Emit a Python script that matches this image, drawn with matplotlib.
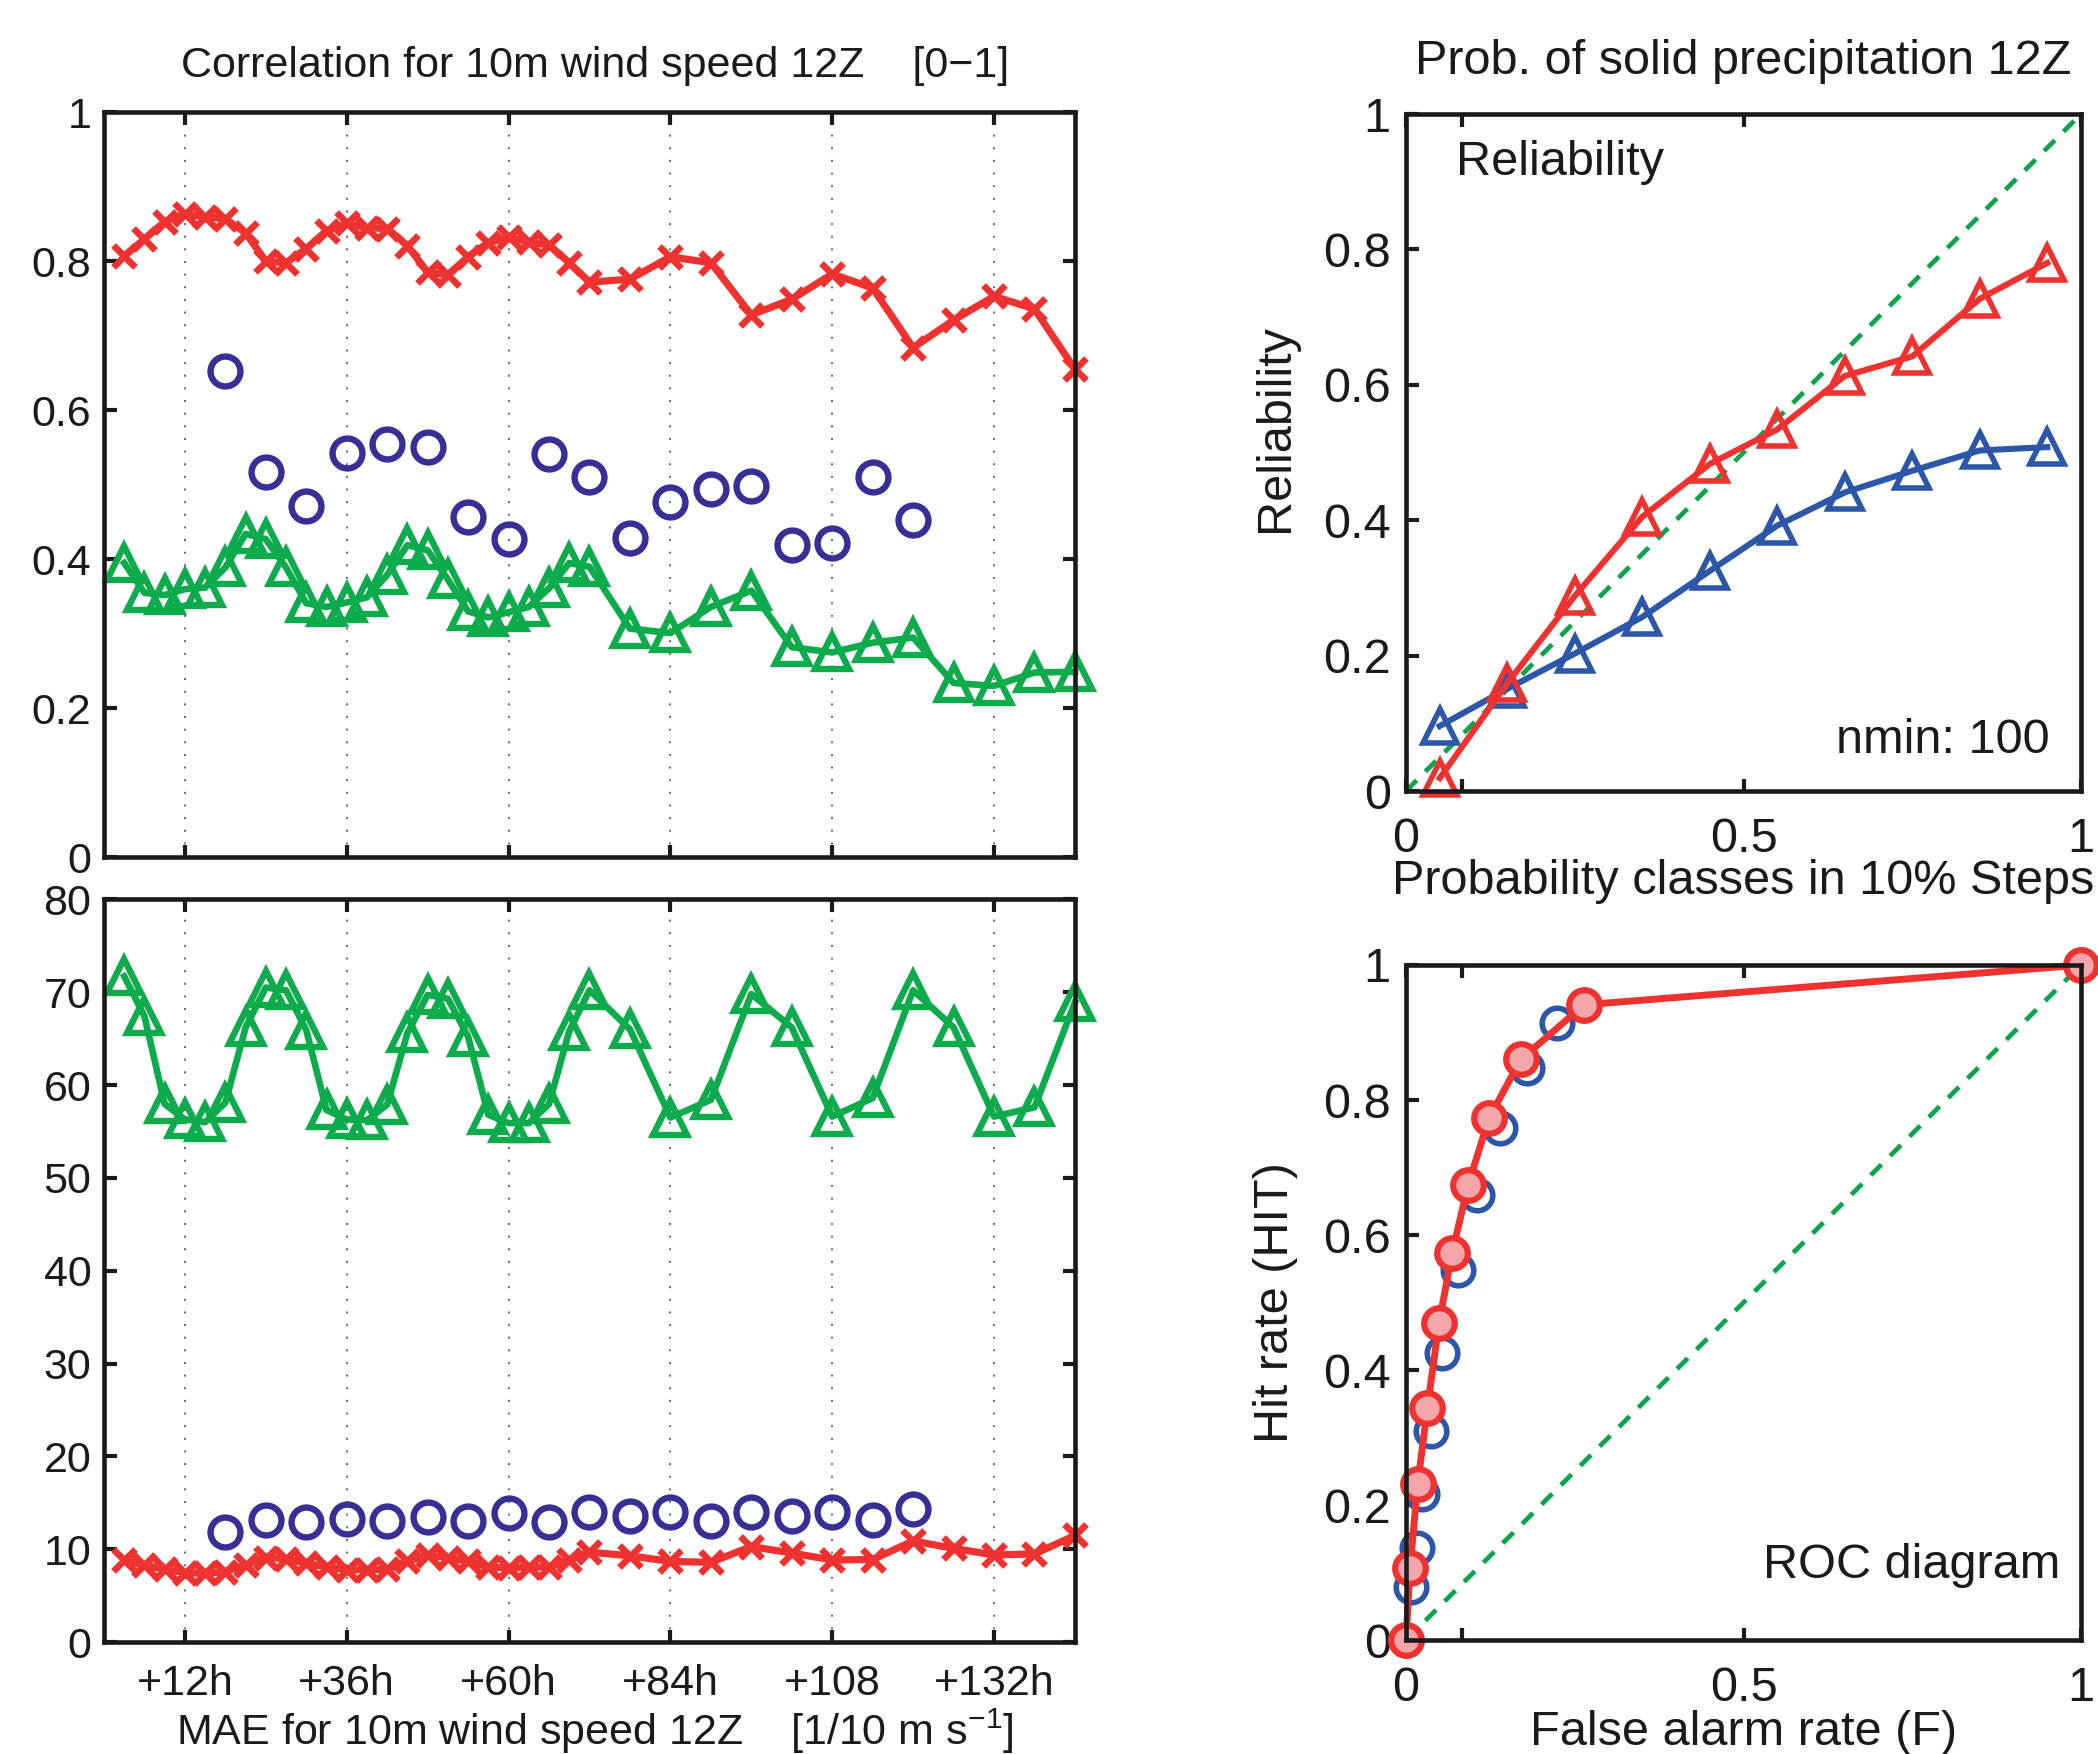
import matplotlib
matplotlib.use("Agg")
import matplotlib.pyplot as plt

# --- data ------------------------------------------------------------------
lead_h = [3, 6, 9, 12, 15, 18, 21, 24, 27, 30, 33, 36, 39, 42, 45, 48, 51, 54,
          57, 60, 63, 66, 69, 72, 78, 84, 90, 96, 102, 108, 114, 120, 126, 132, 138, 144]
lead_h_blue = [18, 24, 30, 36, 42, 48, 54, 60, 66, 72, 78, 84, 90, 96, 102, 108, 114, 120]
hour_ticks = [12, 36, 60, 84, 108, 132]
hour_labels = ["+12h", "+36h", "+60h", "+84h", "+108", "+132h"]

corr_red = [0.807, 0.830, 0.853, 0.863, 0.860, 0.857, 0.838, 0.800, 0.798, 0.817, 0.841, 0.851,
            0.845, 0.844, 0.821, 0.785, 0.782, 0.806, 0.825, 0.832, 0.826, 0.822, 0.798, 0.772,
            0.776, 0.806, 0.798, 0.728, 0.749, 0.783, 0.764, 0.684, 0.721, 0.753, 0.736, 0.655]
corr_green = [0.395, 0.355, 0.352, 0.360, 0.362, 0.389, 0.434, 0.427, 0.389, 0.341, 0.336, 0.342,
              0.349, 0.379, 0.419, 0.412, 0.373, 0.330, 0.322, 0.329, 0.336, 0.361, 0.395, 0.390,
              0.307, 0.301, 0.336, 0.358, 0.282, 0.275, 0.288, 0.295, 0.234, 0.230, 0.248, 0.249]
corr_blue = [0.653, 0.517, 0.471, 0.543, 0.555, 0.551, 0.457, 0.427, 0.542, 0.511, 0.428, 0.477,
             0.495, 0.498, 0.419, 0.422, 0.511, 0.453]

mae_red = [8.85, 8.3, 7.85, 7.5, 7.4, 7.6, 8.3, 9.1, 9.0, 8.5, 8.1, 7.8, 7.8, 7.85, 8.7, 9.4,
           9.1, 8.7, 8.1, 8.0, 8.1, 8.1, 8.85, 9.7, 9.3, 8.7, 8.6, 10.3, 9.6, 8.85, 8.9, 10.9,
           10.1, 9.4, 9.5, 11.5]
mae_green = [71.7, 67.4, 57.95, 56.3, 56.0, 58.1, 66.2, 70.5, 70.2, 65.9, 57.3, 56.3, 56.2, 57.9,
             65.6, 69.7, 69.3, 65.2, 56.8, 55.9, 55.9, 57.95, 65.8, 70.2, 66.0, 56.5, 58.4, 69.8,
             66.2, 56.6, 58.6, 70.2, 66.2, 56.6, 57.6, 68.9]
mae_blue = [11.9, 13.2, 12.9, 13.3, 13.1, 13.5, 13.1, 13.9, 12.9, 14.05, 13.6, 14.05, 13.1,
            14.05, 13.6, 14.05, 13.2, 14.3]

prob_classes = [0.05, 0.15, 0.25, 0.35, 0.45, 0.55, 0.65, 0.75, 0.85, 0.95]
rel_red = [0.019, 0.159, 0.288, 0.405, 0.483, 0.534, 0.613, 0.642, 0.727, 0.780]
rel_blue = [0.096, 0.151, 0.203, 0.257, 0.325, 0.392, 0.441, 0.473, 0.503, 0.508]

roc_far_red = [0, 0.006, 0.0173, 0.0316, 0.049, 0.0685, 0.092, 0.123, 0.170, 0.264, 1.0]
roc_hit_red = [0, 0.107, 0.231, 0.343, 0.470, 0.574, 0.674, 0.773, 0.860, 0.941, 1.0]
roc_far_blue = [0, 0.008, 0.016, 0.024, 0.0365, 0.054, 0.077, 0.105, 0.139, 0.179, 0.224, 1.0]
roc_hit_blue = [0, 0.078, 0.137, 0.216, 0.309, 0.425, 0.548, 0.659, 0.758, 0.847, 0.914, 1.0]

# --- style -----------------------------------------------------------------
RED, GREEN, INDIGO, BLUE = "#ee3230", "#0dab4b", "#372f96", "#2c56a7"
PINK, DIAG, INK = "#f4a6aa", "#0fa24c", "#1a1a1a"
FS_L, FS_R = 31, 35

plt.rcParams["font.family"] = ["Liberation Sans", "DejaVu Sans"]
plt.rcParams["mathtext.fontset"] = "custom"
plt.rcParams["mathtext.rm"] = "Liberation Sans"
plt.rcParams["mathtext.it"] = "Liberation Sans:italic"
plt.rcParams["axes.linewidth"] = 3.3
plt.rcParams["axes.edgecolor"] = INK


def frame(ax, fs, right_ticks=True):
    ax.tick_params(direction="in", length=9, width=3.0, color=INK, labelsize=fs,
                   labelcolor=INK, top=True, right=right_ticks)
    for s in ax.spines.values():
        s.set_zorder(5)


fig = plt.figure(figsize=(20.98, 17.54), dpi=100, facecolor="white")
ax_c = fig.add_axes([0.04957, 0.51123, 0.4628, 0.42475])
ax_m = fig.add_axes([0.04957, 0.06374, 0.4628, 0.42355])
ax_r = fig.add_axes([0.67016, 0.54903, 0.32174, 0.38597])
ax_roc = fig.add_axes([0.67016, 0.06499, 0.32174, 0.38484])

# --- left: correlation and MAE ---------------------------------------------
tri = dict(marker="^", ms=24, mew=4.6, mfc="none", lw=4.8, clip_on=False, zorder=3)
crs = dict(marker="x", ms=16, mew=4.8, lw=5.2, clip_on=False, zorder=4)
ring = dict(marker="o", ms=21.5, mew=4.6, mfc="none", ls="none", clip_on=False, zorder=3)

for ax, red, green, blue in [(ax_c, corr_red, corr_green, corr_blue),
                             (ax_m, mae_red, mae_green, mae_blue)]:
    ax.plot(lead_h, green, color=GREEN, mec=GREEN, **tri)
    ax.plot(lead_h_blue, blue, color=INDIGO, mec=INDIGO, **ring)
    ax.plot(lead_h, red, color=RED, mec=RED, **crs)
    ax.set_xlim(0, 144)
    ax.set_xticks(hour_ticks)
    ax.grid(axis="x", color="#666666", lw=1.4, linestyle=(0, (1, 5.5)))
    ax.set_axisbelow(True)
    frame(ax, FS_L)
    ax.tick_params(axis="y", pad=9)

ax_c.set_ylim(0, 1)
ax_c.set_yticks([0, 0.2, 0.4, 0.6, 0.8, 1])
ax_c.set_yticklabels(["0", "0.2", "0.4", "0.6", "0.8", "1"])
ax_c.set_xticklabels([])
ax_c.text(0.506, 1.062, "Correlation for 10m wind speed 12Z    [0\u22121]",
          transform=ax_c.transAxes, ha="center", va="center", fontsize=FS_L, color=INK)

ax_m.set_ylim(0, 80)
ax_m.set_yticks(range(0, 81, 10))
ax_m.set_xticklabels(hour_labels)
ax_m.tick_params(axis="x", pad=16)
ax_m.text(0.506, -0.12, r"MAE for 10m wind speed 12Z    [1/10 m s$^{\mathregular{-1}}$]",
          transform=ax_m.transAxes, ha="center", va="center", fontsize=FS_L, color=INK)

# --- right: reliability and ROC --------------------------------------------
unit_ticks = [0, 0.2, 0.4, 0.6, 0.8, 1]
unit_labels = ["0", "0.2", "0.4", "0.6", "0.8", "1"]
for ax in (ax_r, ax_roc):
    ax.plot([0, 1], [0, 1], color=DIAG, lw=3.4, ls=(0, (3.2, 2.6)), zorder=2)
    ax.set_xlim(0, 1)
    ax.set_ylim(0, 1)
    ax.set_xticks([0, 0.083, 0.5, 1])
    ax.set_xticklabels(["0", "", "0.5", "1"])
    ax.set_yticks(unit_ticks)
    ax.set_yticklabels(unit_labels)
    frame(ax, FS_R, right_ticks=False)
    ax.tick_params(axis="x", pad=19)
    ax.tick_params(axis="y", pad=11)

rtri = dict(marker="^", ms=24, mew=4.0, mfc="none", lw=4.4, clip_on=False)
ax_r.plot(prob_classes, rel_blue, color=BLUE, mec=BLUE, zorder=3, **rtri)
ax_r.plot(prob_classes, rel_red, color=RED, mec=RED, zorder=4, **rtri)
ax_r.text(0.5, 1.078, "Prob. of solid precipitation 12Z", transform=ax_r.transAxes,
          ha="center", va="center", fontsize=FS_R, color=INK)
ax_r.text(0.074, 0.928, "Reliability", transform=ax_r.transAxes,
          ha="left", va="center", fontsize=FS_R, color=INK)
ax_r.text(0.954, 0.075, "nmin: 100", transform=ax_r.transAxes,
          ha="right", va="center", fontsize=FS_R, color=INK)
ax_r.set_ylabel("Reliability", fontsize=FS_R, color=INK)
ax_r.yaxis.set_label_coords(-0.16, 0.536)
ax_r.set_xlabel("Probability classes in 10% Steps", fontsize=FS_R, color=INK)
ax_r.xaxis.set_label_coords(0.5, -0.1)

ax_roc.plot(roc_far_blue, roc_hit_blue, ls="none", marker="o", ms=22, mew=4.0,
            mfc="none", mec=BLUE, clip_on=False, zorder=3)
ax_roc.plot(roc_far_red, roc_hit_red, color=RED, lw=5.0, marker="o", ms=22, mew=4.5,
            mfc=PINK, mec=RED, clip_on=False, zorder=4)
ax_roc.text(0.969, 0.11, "ROC diagram", transform=ax_roc.transAxes,
            ha="right", va="center", fontsize=FS_R, color=INK)
ax_roc.set_ylabel("Hit rate (HIT)", fontsize=FS_R, color=INK)
ax_roc.yaxis.set_label_coords(-0.16, 0.5)
ax_roc.set_xlabel("False alarm rate (F)", fontsize=FS_R, color=INK)
ax_roc.xaxis.set_label_coords(0.5, -0.104)

fig.savefig("out.png", dpi=100, facecolor="white")
